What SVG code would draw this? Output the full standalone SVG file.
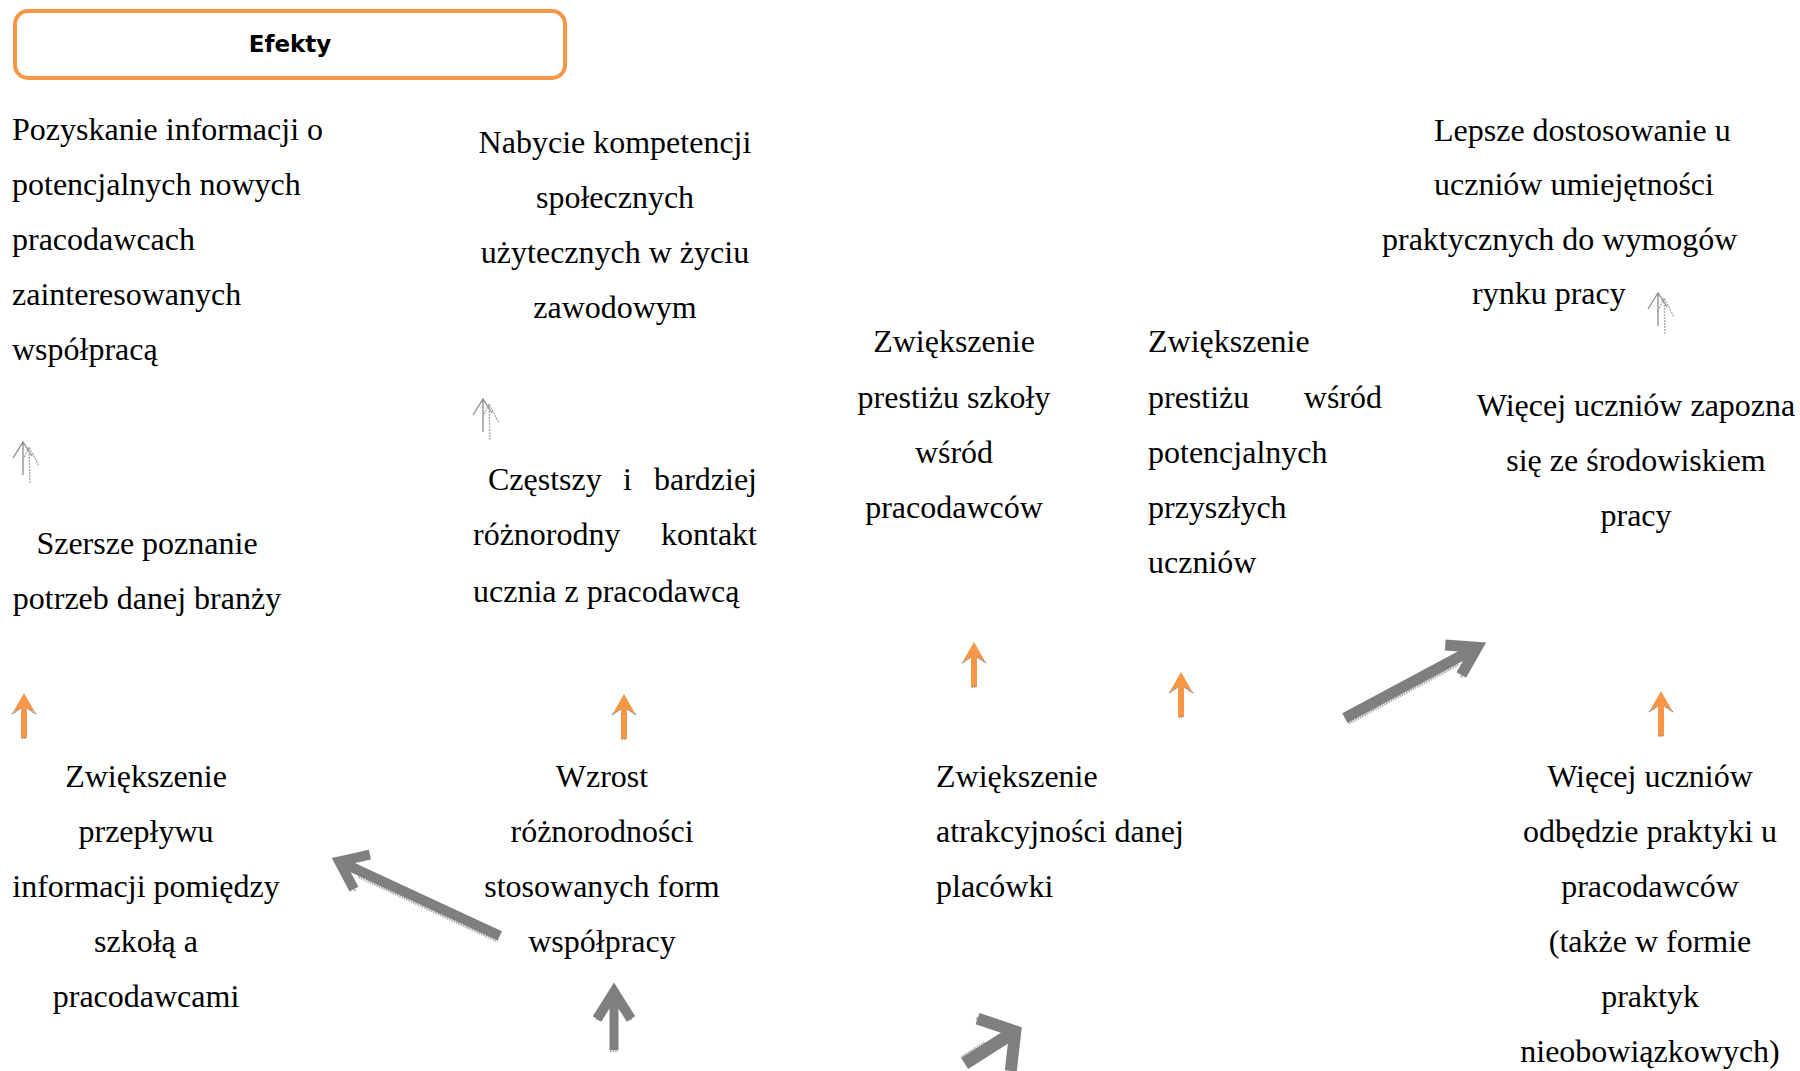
<svg xmlns="http://www.w3.org/2000/svg" xmlns:xlink="http://www.w3.org/1999/xlink" width="1800" height="1071" viewBox="0 0 1800 1071">
<style>
  .t { font-family: "Liberation Serif", "Times New Roman", serif; font-size: 32px; fill: #000; }
  .c { text-anchor: middle; }
  .e { text-anchor: end; }
  .hdr { font-family: "DejaVu Sans", Verdana, sans-serif; font-weight: bold; font-size: 23px; fill: #000; text-anchor: middle; }
  .box { fill: #fff; stroke: #F79646; stroke-width: 4; }
  .big { fill: none; stroke: #7f7f7f; stroke-linejoin: miter; stroke-linecap: butt; }
  .grain { fill: none; stroke: #ababab; stroke-width: 2.5; stroke-dasharray: 1.5 1; }
  .thin { fill: none; stroke: #8c8c8c; stroke-width: 1.3; }
  .thin2 { fill: none; stroke: #a6a6a6; stroke-width: 1.3; stroke-dasharray: 2 1; }
</style>
<defs>
  <g id="oa">
    <path d="M0,0 L12,21 L3,15 L3,45 L-3,45 L-3,15 L-12,21 Z" fill="#F79646"/>
    <path d="M12,21 L3,15 M-12,21 L-3,15 M-2.5,45 L2.5,45" stroke="#8c8c8c" stroke-width="1.5" stroke-dasharray="1.5 1" fill="none"/>
  </g>
  <g id="ta">
    <path class="thin" d="M10,34 L10,1 M0,17 L10,1 L19,15"/>
    <path class="thin2" d="M17,42 L16,6 M10,19 L16,6 L26,25"/>
  </g>
</defs>

<g id="header">
  <rect class="box" x="15" y="11" width="550" height="67" rx="13" ry="13"/>
  <text class="hdr" x="290" y="52">Efekty</text>
</g>

<g id="n1">
  <text class="t" x="12" y="140">Pozyskanie informacji o</text>
  <text class="t" x="12" y="195">potencjalnych nowych</text>
  <text class="t" x="12" y="250">pracodawcach</text>
  <text class="t" x="12" y="305">zainteresowanych</text>
  <text class="t" x="12" y="360">współpracą</text>
</g>

<g id="n2">
  <text class="t c" x="615" y="153">Nabycie kompetencji</text>
  <text class="t c" x="615" y="208">społecznych</text>
  <text class="t c" x="615" y="263">użytecznych w życiu</text>
  <text class="t c" x="615" y="318">zawodowym</text>
</g>

<g id="n3">
  <text class="t c" x="147" y="554">Szersze poznanie</text>
  <text class="t c" x="147" y="609">potrzeb danej branży</text>
</g>

<g id="n4">
  <text class="t" x="488" y="490">Częstszy</text>
  <text class="t" x="623" y="490">i</text>
  <text class="t e" x="757" y="490">bardziej</text>
  <text class="t" x="473" y="545">różnorodny</text>
  <text class="t e" x="757" y="545">kontakt</text>
  <text class="t" x="473" y="602">ucznia z pracodawcą</text>
</g>

<g id="n5">
  <text class="t c" x="146" y="787">Zwiększenie</text>
  <text class="t c" x="146" y="842">przepływu</text>
  <text class="t c" x="146" y="897">informacji pomiędzy</text>
  <text class="t c" x="146" y="952">szkołą a</text>
  <text class="t c" x="146" y="1007">pracodawcami</text>
</g>

<g id="n6">
  <text class="t c" x="602" y="787">Wzrost</text>
  <text class="t c" x="602" y="842">różnorodności</text>
  <text class="t c" x="602" y="897">stosowanych form</text>
  <text class="t c" x="602" y="952">współpracy</text>
</g>

<g id="n7">
  <text class="t c" x="954" y="352">Zwiększenie</text>
  <text class="t c" x="954" y="408">prestiżu szkoły</text>
  <text class="t c" x="954" y="463">wśród</text>
  <text class="t c" x="954" y="518">pracodawców</text>
</g>

<g id="n8">
  <text class="t" x="1148" y="352">Zwiększenie</text>
  <text class="t" x="1148" y="408">prestiżu</text>
  <text class="t e" x="1382" y="408">wśród</text>
  <text class="t" x="1148" y="463">potencjalnych</text>
  <text class="t" x="1148" y="518">przyszłych</text>
  <text class="t" x="1148" y="573">uczniów</text>
</g>

<g id="n9">
  <text class="t" x="1434" y="141">Lepsze dostosowanie u</text>
  <text class="t" x="1434" y="195">uczniów umiejętności</text>
  <text class="t" x="1382" y="250">praktycznych do wymogów</text>
  <text class="t" x="1472" y="304">rynku pracy</text>
</g>

<g id="n10">
  <text class="t c" x="1636" y="416">Więcej uczniów zapozna</text>
  <text class="t c" x="1636" y="471">się ze środowiskiem</text>
  <text class="t c" x="1636" y="526">pracy</text>
</g>

<g id="n11">
  <text class="t" x="936" y="787">Zwiększenie</text>
  <text class="t" x="936" y="842">atrakcyjności danej</text>
  <text class="t" x="936" y="897">placówki</text>
</g>

<g id="n12">
  <text class="t c" x="1650" y="787">Więcej uczniów</text>
  <text class="t c" x="1650" y="842">odbędzie praktyki u</text>
  <text class="t c" x="1650" y="897">pracodawców</text>
  <text class="t c" x="1650" y="952">(także w formie</text>
  <text class="t c" x="1650" y="1007">praktyk</text>
  <text class="t c" x="1650" y="1062">nieobowiązkowych)</text>
</g>

<g id="connectors">
  <!-- thin gray double arrows -->
  <use xlink:href="#ta" href="#ta" x="13" y="441"/>
  <use xlink:href="#ta" href="#ta" x="473" y="398"/>
  <use xlink:href="#ta" href="#ta" x="1648" y="292"/>

  <!-- orange arrows -->
  <use xlink:href="#oa" href="#oa" x="24" y="693"/>
  <use xlink:href="#oa" href="#oa" x="624" y="694"/>
  <use xlink:href="#oa" href="#oa" x="974" y="642"/>
  <use xlink:href="#oa" href="#oa" x="1181" y="672"/>
  <use xlink:href="#oa" href="#oa" x="1661" y="691"/>

  <!-- big gray arrow: Wzrost -> Zwiększenie przepływu -->
  <g transform="translate(332,858) rotate(-65.1)">
    <path class="grain" d="M-6,32 L-6,185 M-20,35 L-3,12"/>
    <polyline class="big" stroke-width="10" points="-19,33 0,8 19,33"/>
    <line class="big" stroke-width="10" x1="0" y1="8" x2="0" y2="185"/>
  </g>

  <!-- big gray arrow vertical under Wzrost -->
  <g transform="translate(614,982)">
    <path class="grain" d="M-18,37 L-12,38 M12,38 L18,37 M-4,69 L4,69"/>
    <polyline class="big" stroke-width="10" points="-17,37 0,10 17,37"/>
    <line class="big" stroke-width="9" x1="0" y1="12" x2="0" y2="68"/>
  </g>

  <!-- big gray arrow up-right toward Więcej uczniów zapozna -->
  <g transform="translate(1485,643) rotate(61.8)">
    <path class="grain" d="M6.5,34 L6.5,159 M19,37 L4,15"/>
    <polyline class="big" stroke-width="11" points="-17,36 0,9 17,36"/>
    <line class="big" stroke-width="11" x1="0" y1="9" x2="0" y2="159"/>
  </g>

  <!-- big gray arrow bottom (Zwiększenie atrakcyjności) -->
  <g transform="translate(1022,1027) rotate(57.5)">
    <path class="grain" d="M-7,40 L-7,68 M-32,34 L-4,10"/>
    <polyline class="big" stroke-width="12" points="-31,33 0,8 31,33"/>
    <line class="big" stroke-width="13" x1="0" y1="8" x2="0" y2="68"/>
  </g>
</g>
</svg>
